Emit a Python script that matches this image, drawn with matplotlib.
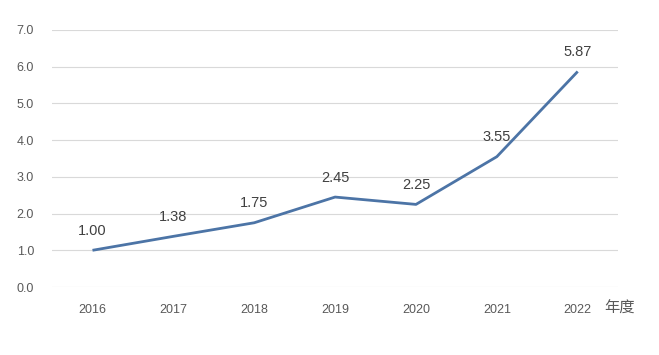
import matplotlib.pyplot as plt

plt.rcParams['font.family'] = ['Liberation Sans', 'Noto Sans CJK SC', 'DejaVu Sans']

years = ['2016', '2017', '2018', '2019', '2020', '2021', '2022']
values = [1.00, 1.38, 1.75, 2.45, 2.25, 3.55, 5.87]
yticks = [0, 1, 2, 3, 4, 5, 6, 7]

fig = plt.figure(figsize=(6.59, 3.55), dpi=100)
ax = fig.add_axes([0.079, 0.1915, 0.859, 0.724])

x = range(len(years))
ax.plot(x, values, color='#4c74a6', linewidth=2.0, solid_capstyle='butt')

for i, v in zip(x, values):
    ax.annotate(f'{v:.2f}', (i, v), xytext=(0, 9), textcoords='offset points',
                ha='center', va='bottom', fontsize=10.5, color='#404040')

ax.set_xlim(-0.5, len(years) - 0.5)
ax.set_ylim(0, 7)
ax.set_yticks(yticks)
ax.set_yticklabels([f'{t:.1f}' for t in yticks])
ax.set_xticks(list(x))
ax.set_xticklabels(years)
ax.tick_params(axis='both', length=0, labelsize=9, labelcolor='#595959')
ax.tick_params(axis='y', pad=13)
ax.tick_params(axis='x', pad=12)
ax.grid(axis='y', color='#d9d9d9', linewidth=0.8)
ax.set_axisbelow(True)
for s in ax.spines.values():
    s.set_visible(False)

# axis title sits just right of the last category label
ax.annotate('年度', (len(years) - 1, 0), xytext=(27, -22), textcoords='offset pixels',
            ha='left', va='center', fontsize=11, color='#595959',
            annotation_clip=False)

fig.savefig('out.png', dpi=100)
